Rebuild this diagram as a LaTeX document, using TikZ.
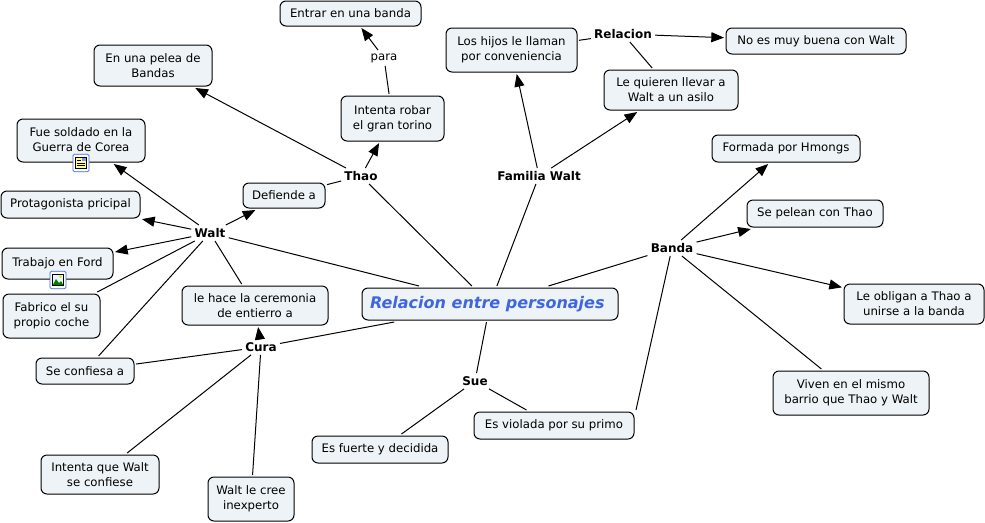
\documentclass[tikz,border=0pt]{standalone}
\usepackage{fontspec}
\setmainfont{DejaVu Sans}
\usetikzlibrary{arrows.meta}
\definecolor{boxfill}{HTML}{EDF3F6}
\definecolor{rootblue}{HTML}{3F66E0}
\tikzset{
  dim/.style 2 args={minimum width=#1*0.75pt, minimum height=#2*0.75pt},
  box/.style={draw=black, line width=0.75pt, rounded corners=4.5pt, fill=boxfill, align=center, inner sep=0pt, outer sep=1.5pt, font=\fontsize{8.8}{11.2}\selectfont},
  rootbox/.style={box, font=\fontsize{12}{14}\selectfont\bfseries\itshape, text=rootblue},
  link/.style={inner sep=1pt, outer sep=1.5pt, font=\fontsize{9}{10}\selectfont\bfseries},
  plainlink/.style={link, font=\fontsize{8.8}{10}\selectfont},
  conn/.style={draw=black, line width=0.75pt},
  arr/.style={conn, -{Triangle[length=9.5pt,width=7.5pt]}},
  iconbox/.style={draw=rootblue, line width=0.6pt, rounded corners=1pt, fill=white}
}
\begin{document}
\begin{tikzpicture}[x=0.75pt,y=-0.75pt]
\useasboundingbox (0,0) rectangle (985,522);
% concepts
\node[rootbox,dim={256}{32}] (root) at (490,304) {Relacion entre personajes\hspace*{4pt}};
\node[box,dim={141}{25}] (entrar) at (350.5,13.5) {Entrar en una banda};
\node[box,dim={118}{41}] (pelea) at (153,65.5) {En una pelea de\\Bandas};
\node[box,dim={128}{43}] (fue) at (81,140.5) {\raisebox{1.5pt}{Fue soldado en la}\\\raisebox{1.5pt}{Guerra de Corea}};
\node[box,dim={139}{27}] (prota) at (70.5,204.5) {Protagonista pricipal};
\node[box,dim={111}{31}] (ford) at (57.5,263.5) {\raisebox{2pt}{Trabajo en Ford}};
\node[box,dim={97}{44}] (coche) at (51.5,316) {Fabrico el su\\propio coche};
\node[box,dim={98}{26}] (confiesa) at (85,371) {Se confiesa a};
\node[box,dim={118}{39}] (intentaw) at (100,474.5) {Intenta que Walt\\se confiese};
\node[box,dim={86}{44}] (cree) at (251,499) {Walt le cree\\inexperto};
\node[box,dim={146}{39}] (hace) at (255,305.5) {le hace la ceremonia\\de entierro a};
\node[box,dim={82}{25}] (defiende) at (284,195.5) {Defiende a};
\node[box,dim={103}{45}] (robar) at (392.5,118.5) {Intenta robar\\el gran torino};
\node[box,dim={131}{44}] (hijos) at (511.5,50) {Los hijos le llaman\\por conveniencia};
\node[box,dim={134}{40}] (quieren) at (671,90) {Le quieren llevar a\\Walt a un asilo};
\node[box,dim={180}{26}] (buena) at (816,41) {No es muy buena con Walt};
\node[box,dim={148}{27}] (formada) at (786,148.5) {Formada por Hmongs};
\node[box,dim={136}{27}] (pelean) at (815,213.5) {Se pelean con Thao};
\node[box,dim={140}{40}] (obligan) at (914,304) {Le obligan a Thao a\\unirse a la banda};
\node[box,dim={156}{44}] (viven) at (851,393) {Viven en el mismo\\barrio que Thao y Walt};
\node[box,dim={160}{27}] (violada) at (554,425.5) {Es violada por su primo};
\node[box,dim={136}{27}] (fuerte) at (380,449.5) {Es fuerte y decidida};
% linking phrases
\node[link] (thao) at (361,176) {Thao};
\node[link] (walt) at (210,233) {Walt};
\node[link] (familia) at (539,176) {Familia Walt};
\node[link] (banda) at (672,248) {Banda};
\node[link] (cura) at (261,347) {Cura};
\node[link] (sue) at (475,381) {Sue};
\node[link] (relacion) at (623,34) {Relacion};
\node[plainlink] (para) at (384,58) {para};
% connectors
\draw[conn] (root) -- (thao);
\draw[conn] (root) -- (walt);
\draw[conn] (root) -- (familia);
\draw[conn] (root) -- (banda);
\draw[conn] (root) -- (cura);
\draw[conn] (root) -- (sue);
\draw[arr] (thao) -- (pelea);
\draw[arr] (thao) -- (robar);
\draw[conn] (robar) -- (para);
\draw[arr] (para) -- (entrar);
\draw[conn] (defiende) -- (thao);
\draw[arr] (walt) -- (defiende);
\draw[arr] (walt) -- (fue);
\draw[arr] (walt) -- (prota);
\draw[arr] (walt) -- (ford);
\draw[conn] (walt) -- (coche);
\draw[conn] (walt) -- (confiesa);
\draw[conn] (walt) -- (hace);
\draw[arr] (cura) -- (hace);
\draw[conn] (cura) -- (confiesa);
\draw[conn] (cura) -- (intentaw);
\draw[conn] (cura) -- (cree);
\draw[arr] (familia) -- (hijos);
\draw[arr] (familia) -- (quieren);
\draw[conn] (hijos) -- (relacion);
\draw[conn] (quieren) -- (relacion);
\draw[arr] (relacion) -- (buena);
\draw[arr] (banda) -- (formada);
\draw[arr] (banda) -- (pelean);
\draw[arr] (banda) -- (obligan);
\draw[conn] (banda) -- (viven);
\draw[conn] (violada.north east) -- (banda);
\draw[conn] (sue) -- (violada);
\draw[conn] (sue) -- (fuerte);
% icons
\node[iconbox,minimum width=12pt,minimum height=13pt,inner sep=0pt] (iconfue) at (81,163) {};
\fill[yellow!40!white] (75.5,157.5) rectangle (86.5,168.5);
\draw[black,line width=0.4pt] (77,160.5) -- (81,160.5) (77,163) -- (85,163) (77,165.5) -- (85,165.5);
\fill[rootblue!70!white] (82,158) rectangle (86,161);
\draw[black,line width=0.5pt] (75.5,157.5) rectangle (86.5,168.5);
\node[iconbox,minimum width=12pt,minimum height=13pt,inner sep=0pt] (iconford) at (58,280) {};
\fill[cyan!10] (52.5,274.5) rectangle (63.5,285.5);
\fill[green!50!black] (52.5,285.5) -- (56,279) -- (59,283) -- (61,281) -- (63.5,285.5) -- cycle;
\fill[yellow!80!orange] (60.5,276.5) circle (1.5);
\draw[black,line width=0.4pt] (52.5,274.5) rectangle (63.5,285.5);
\end{tikzpicture}
\end{document}
